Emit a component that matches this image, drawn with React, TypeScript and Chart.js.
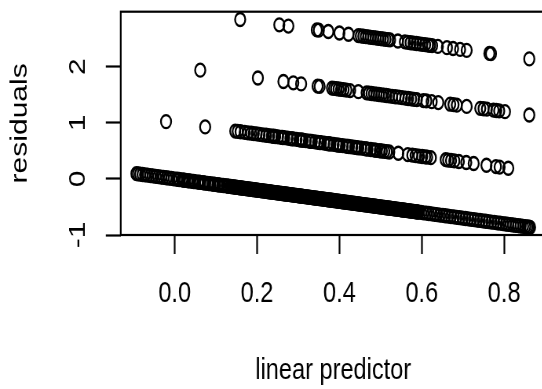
import React, { useEffect, useRef } from 'react';
import { Chart, registerables } from 'chart.js';
Chart.register(...registerables);

const xTicks = [0, 0.2, 0.4, 0.6, 0.8];
const xTickLabels = ['0.0', '0.2', '0.4', '0.6', '0.8'];
const yTicks = [-1, 0, 1, 2];
const yTickLabels = ['-1', '0', '1', '2'];
const xTitle = 'linear predictor';
const yTitle = 'residuals';

// [linear predictor, residual] for observations with response 0
const resp0: number[][] = [
  [-0.093,0.093],[-0.089,0.089],[-0.084,0.084],[-0.078,0.078],[-0.072,0.072],[-0.066,0.066],[-0.059,0.059],[-0.053,0.053],
  [-0.046,0.046],[-0.040,0.040],[-0.033,0.033],[-0.027,0.027],[-0.020,0.020],[-0.014,0.014],[-0.008,0.008],[-0.002,0.002],
  [0.005,-0.005],[0.011,-0.011],[0.018,-0.018],[0.024,-0.024],[0.030,-0.030],[0.037,-0.037],[0.043,-0.043],[0.049,-0.049],
  [0.056,-0.056],[0.062,-0.062],[0.068,-0.068],[0.074,-0.074],[0.080,-0.080],[0.086,-0.086],[0.092,-0.092],[0.098,-0.098],
  [0.104,-0.104],[0.110,-0.110],[0.115,-0.115],[0.121,-0.121],[0.126,-0.126],[0.131,-0.131],
  [0.008,-0.008],[0.021,-0.021],[0.034,-0.034],[0.046,-0.046],[0.059,-0.059],[0.071,-0.071],[0.083,-0.083],[0.095,-0.095],
  [0.107,-0.107],[0.118,-0.118],[0.129,-0.129],
  [0.136,-0.136],[0.141,-0.141],[0.146,-0.146],[0.150,-0.150],[0.155,-0.155],[0.160,-0.160],[0.165,-0.165],[0.170,-0.170],
  [0.174,-0.174],[0.179,-0.179],[0.184,-0.184],[0.189,-0.189],[0.193,-0.193],[0.198,-0.198],[0.203,-0.203],[0.208,-0.208],
  [0.212,-0.212],[0.217,-0.217],[0.222,-0.222],[0.227,-0.227],[0.231,-0.231],[0.236,-0.236],[0.241,-0.241],[0.246,-0.246],
  [0.250,-0.250],[0.255,-0.255],[0.260,-0.260],[0.265,-0.265],[0.269,-0.269],[0.274,-0.274],[0.279,-0.279],[0.284,-0.284],
  [0.288,-0.288],[0.293,-0.293],[0.298,-0.298],[0.303,-0.303],[0.307,-0.307],[0.312,-0.312],[0.317,-0.317],[0.322,-0.322],
  [0.326,-0.326],[0.331,-0.331],[0.336,-0.336],[0.341,-0.341],[0.345,-0.345],[0.350,-0.350],[0.355,-0.355],[0.360,-0.360],
  [0.364,-0.364],[0.369,-0.369],[0.374,-0.374],[0.379,-0.379],[0.383,-0.383],[0.388,-0.388],[0.393,-0.393],[0.398,-0.398],
  [0.402,-0.402],[0.407,-0.407],[0.412,-0.412],[0.417,-0.417],[0.421,-0.421],[0.426,-0.426],[0.431,-0.431],[0.436,-0.436],
  [0.440,-0.440],[0.445,-0.445],[0.450,-0.450],[0.455,-0.455],[0.459,-0.459],[0.464,-0.464],[0.469,-0.469],[0.474,-0.474],
  [0.478,-0.478],[0.483,-0.483],[0.488,-0.488],[0.493,-0.493],[0.497,-0.497],[0.502,-0.502],[0.507,-0.507],[0.512,-0.512],
  [0.516,-0.516],[0.521,-0.521],[0.526,-0.526],[0.531,-0.531],[0.535,-0.535],[0.540,-0.540],[0.545,-0.545],[0.550,-0.550],
  [0.554,-0.554],[0.559,-0.559],[0.564,-0.564],[0.569,-0.569],[0.573,-0.573],[0.578,-0.578],[0.583,-0.583],[0.588,-0.588],
  [0.1385,-0.1385],[0.1435,-0.1435],[0.148,-0.148],[0.1525,-0.1525],[0.1575,-0.1575],[0.1625,-0.1625],[0.1675,-0.1675],[0.172,-0.172],
  [0.1765,-0.1765],[0.1815,-0.1815],[0.1865,-0.1865],[0.191,-0.191],[0.1955,-0.1955],[0.2005,-0.2005],[0.2055,-0.2055],[0.210,-0.210],
  [0.2145,-0.2145],[0.2195,-0.2195],[0.2245,-0.2245],[0.229,-0.229],[0.2335,-0.2335],[0.2385,-0.2385],[0.2435,-0.2435],[0.248,-0.248],
  [0.2525,-0.2525],[0.2575,-0.2575],[0.2625,-0.2625],[0.267,-0.267],[0.2715,-0.2715],[0.2765,-0.2765],[0.2815,-0.2815],[0.286,-0.286],
  [0.2905,-0.2905],[0.2955,-0.2955],[0.3005,-0.3005],[0.305,-0.305],[0.3095,-0.3095],[0.3145,-0.3145],[0.3195,-0.3195],[0.324,-0.324],
  [0.3285,-0.3285],[0.3335,-0.3335],[0.3385,-0.3385],[0.343,-0.343],[0.3475,-0.3475],[0.3525,-0.3525],[0.3575,-0.3575],[0.362,-0.362],
  [0.3665,-0.3665],[0.3715,-0.3715],[0.3765,-0.3765],[0.381,-0.381],[0.3855,-0.3855],[0.3905,-0.3905],[0.3955,-0.3955],[0.400,-0.400],
  [0.4045,-0.4045],[0.4095,-0.4095],[0.4145,-0.4145],[0.419,-0.419],[0.4235,-0.4235],[0.4285,-0.4285],[0.4335,-0.4335],[0.438,-0.438],
  [0.4425,-0.4425],[0.4475,-0.4475],[0.4525,-0.4525],[0.457,-0.457],[0.4615,-0.4615],[0.4665,-0.4665],[0.4715,-0.4715],[0.476,-0.476],
  [0.4805,-0.4805],[0.4855,-0.4855],[0.4905,-0.4905],[0.495,-0.495],[0.4995,-0.4995],[0.5045,-0.5045],[0.5095,-0.5095],[0.514,-0.514],
  [0.5185,-0.5185],[0.5235,-0.5235],[0.5285,-0.5285],[0.533,-0.533],[0.5375,-0.5375],[0.5425,-0.5425],[0.5475,-0.5475],[0.552,-0.552],
  [0.5565,-0.5565],[0.5615,-0.5615],[0.5665,-0.5665],[0.571,-0.571],[0.5755,-0.5755],[0.5805,-0.5805],[0.5855,-0.5855],[0.590,-0.590],
  [0.592,-0.592],[0.598,-0.598],[0.604,-0.604],[0.611,-0.611],[0.617,-0.617],[0.624,-0.624],[0.631,-0.631],[0.637,-0.637],
  [0.644,-0.644],[0.651,-0.651],[0.657,-0.657],[0.664,-0.664],[0.671,-0.671],[0.678,-0.678],[0.685,-0.685],[0.692,-0.692],
  [0.699,-0.699],[0.706,-0.706],[0.713,-0.713],[0.720,-0.720],[0.727,-0.727],[0.734,-0.734],[0.741,-0.741],[0.748,-0.748],
  [0.755,-0.755],[0.762,-0.762],[0.769,-0.769],[0.776,-0.776],[0.783,-0.783],[0.790,-0.790],[0.797,-0.797],[0.804,-0.804],
  [0.810,-0.810],[0.816,-0.816],[0.822,-0.822],[0.828,-0.828],[0.834,-0.834],[0.840,-0.840],[0.846,-0.846],[0.851,-0.851],
  [0.856,-0.856],[0.860,-0.860],[0.863,-0.863],
];

// response 1
const resp1: number[][] = [
  [-0.021,1.021],[0.074,0.926],[0.147,0.853],[0.153,0.847],[0.160,0.840],[0.178,0.822],[0.186,0.814],[0.192,0.808],
  [0.199,0.801],[0.206,0.794],[0.214,0.786],[0.222,0.778],[0.229,0.771],[0.236,0.764],[0.244,0.756],[0.251,0.749],
  [0.259,0.741],[0.266,0.734],[0.274,0.726],[0.281,0.719],[0.288,0.712],[0.296,0.704],[0.303,0.697],[0.311,0.689],
  [0.318,0.682],[0.326,0.674],[0.333,0.667],[0.341,0.659],[0.348,0.652],[0.355,0.645],[0.363,0.637],[0.370,0.630],
  [0.378,0.622],[0.386,0.614],[0.393,0.607],[0.401,0.599],[0.408,0.592],[0.416,0.584],[0.423,0.577],[0.431,0.569],
  [0.438,0.562],[0.446,0.554],[0.453,0.547],[0.461,0.539],[0.468,0.532],[0.476,0.524],[0.483,0.517],[0.490,0.510],
  [0.498,0.502],[0.503,0.497],[0.509,0.491],[0.515,0.485],[0.521,0.479],[0.543,0.457],[0.566,0.434],[0.577,0.423],
  [0.585,0.415],[0.593,0.407],[0.601,0.399],[0.608,0.392],[0.613,0.387],[0.622,0.378],[0.658,0.342],[0.664,0.336],
  [0.671,0.329],[0.679,0.321],[0.690,0.310],[0.708,0.292],[0.726,0.274],[0.757,0.243],[0.780,0.220],[0.789,0.211],
  [0.810,0.190],
  [0.170,0.830],[0.240,0.760],[0.262,0.738],[0.285,0.715],[0.307,0.693],[0.330,0.670],[0.352,0.648],[0.374,0.626],
  [0.397,0.603],[0.420,0.580],[0.442,0.558],[0.465,0.535],[0.487,0.513],
];

// response 2
const resp2: number[][] = [
  [0.062,1.938],[0.202,1.798],[0.264,1.736],[0.288,1.712],[0.307,1.693],[0.347,1.653],[0.352,1.648],[0.382,1.618],
  [0.387,1.613],[0.392,1.608],[0.398,1.602],[0.404,1.596],[0.410,1.590],[0.417,1.583],[0.426,1.574],[0.446,1.554],
  [0.466,1.534],[0.472,1.528],[0.478,1.522],[0.484,1.516],[0.490,1.510],[0.496,1.504],[0.502,1.498],[0.508,1.492],
  [0.514,1.486],[0.520,1.480],[0.528,1.472],[0.536,1.464],[0.544,1.456],[0.552,1.448],[0.560,1.440],[0.567,1.433],
  [0.574,1.426],[0.581,1.419],[0.588,1.412],[0.604,1.396],[0.611,1.389],[0.624,1.376],[0.640,1.360],[0.669,1.331],
  [0.677,1.323],[0.685,1.315],[0.709,1.291],[0.742,1.258],[0.750,1.250],[0.758,1.242],[0.774,1.226],[0.781,1.219],
  [0.788,1.212],[0.802,1.198],[0.861,1.139],
];

// response 3
const resp3: number[][] = [
  [0.159,2.841],[0.254,2.746],[0.276,2.724],[0.345,2.655],[0.350,2.650],[0.373,2.627],[0.400,2.600],[0.422,2.578],
  [0.446,2.554],[0.452,2.548],[0.458,2.542],[0.464,2.536],[0.470,2.530],[0.476,2.524],[0.482,2.518],[0.488,2.512],
  [0.494,2.506],[0.500,2.500],[0.506,2.494],[0.512,2.488],[0.518,2.482],[0.523,2.477],[0.542,2.458],[0.559,2.441],
  [0.566,2.434],[0.573,2.427],[0.580,2.420],[0.587,2.413],[0.594,2.406],[0.601,2.399],[0.608,2.392],[0.615,2.385],
  [0.620,2.380],[0.625,2.375],[0.639,2.361],[0.661,2.339],[0.676,2.324],[0.693,2.307],[0.709,2.291],[0.764,2.236],
  [0.768,2.232],[0.861,2.139],
];

const X_MIN = -0.131;
const X_MAX = 0.901;
const Y_MIN = -1.0;
const Y_MAX = 2.98;

const SX = 0.785; // horizontal squeeze of the picture
const W = 720;
const H = 389;
const FONT = "'Liberation Sans', Arial, Helvetica, sans-serif";

export default function App() {
  const ref = useRef<HTMLCanvasElement | null>(null);
  useEffect(() => {
    if (!ref.current) return;
    const toPts = (a: number[][]) => a.map(([x, y]) => ({ x, y }));
    const ds = (label: string, a: number[][]) => ({
      label,
      data: toPts(a),
      showLine: false,
      pointStyle: 'circle',
      pointRadius: 6.5,
      pointBorderWidth: 2.3,
      pointBorderColor: '#000',
      pointBackgroundColor: 'rgba(0,0,0,0)',
    });
    const boxPlugin = {
      id: 'rbox',
      afterDraw(chart: any) {
        const { ctx, chartArea } = chart;
        ctx.save();
        ctx.strokeStyle = '#000';
        ctx.lineWidth = 2.2;
        ctx.strokeRect(chartArea.left, chartArea.top, chartArea.right - chartArea.left, chartArea.bottom - chartArea.top);
        // rotated y tick labels, as R draws them
        const ys = chart.scales.y;
        ctx.fillStyle = '#000';
        ctx.font = `30px ${FONT}`;
        ctx.textAlign = 'center';
        ctx.textBaseline = 'middle';
        yTicks.forEach((v, i) => {
          const py = ys.getPixelForValue(v);
          ctx.save();
          ctx.translate(99.5, py);
          ctx.rotate(-Math.PI / 2);
          ctx.fillText(yTickLabels[i], 0, 0);
          ctx.restore();
        });
        ctx.restore();
      },
    };
    const chart = new Chart(ref.current, {
      type: 'scatter',
      data: {
        datasets: [ds('0', resp0), ds('1', resp1), ds('2', resp2), ds('3', resp3)],
      },
      plugins: [boxPlugin],
      options: {
        animation: false,
        responsive: true,
        maintainAspectRatio: false,
        events: [],
        layout: { padding: { left: 0, right: W - 695.2, top: 11.7, bottom: 0 } },
        plugins: { legend: { display: false }, tooltip: { enabled: false } },
        scales: {
          x: {
            type: 'linear',
            min: X_MIN,
            max: X_MAX,
            afterBuildTicks: (s: any) => { s.ticks = xTicks.map((v) => ({ value: v })); },
            afterFit: (s: any) => { s.height = H - 235; },
            ticks: {
              color: '#000',
              font: { family: FONT, size: 30 },
              padding: 22,
              maxRotation: 0,
              minRotation: 0,
              autoSkip: false,
              callback: (v: any) => { const i = xTicks.indexOf(Number(v)); return i >= 0 ? xTickLabels[i] : ''; },
            },
            grid: { display: true, drawOnChartArea: false, drawTicks: true, tickLength: 19, tickWidth: 2.2, tickColor: '#000' },
            border: { display: false },
            title: { display: true, text: xTitle, color: '#000', font: { family: FONT, size: 30 }, padding: { top: 0, bottom: 0.5 } },
          },
          y: {
            type: 'linear',
            min: Y_MIN,
            max: Y_MAX,
            afterBuildTicks: (s: any) => { s.ticks = yTicks.map((v) => ({ value: v })); },
            afterFit: (s: any) => { s.width = 153.8; },
            ticks: { display: false },
            grid: { display: true, drawOnChartArea: false, drawTicks: true, tickLength: 19, tickWidth: 2.2, tickColor: '#000' },
            border: { display: false },
            title: { display: true, text: yTitle, color: '#000', font: { family: FONT, size: 30 }, padding: { top: 7.3, bottom: 0 } },
          },
        },
      },
    });
    return () => chart.destroy();
  }, []);
  return (
    <div style={{ position: 'fixed', left: 0, top: 0, width: 542, height: H, overflow: 'hidden', background: '#fff' }}>
      <div style={{ width: W, height: H, transform: `scaleX(${SX})`, transformOrigin: '0 0' }}>
        <canvas ref={ref} />
      </div>
    </div>
  );
}
